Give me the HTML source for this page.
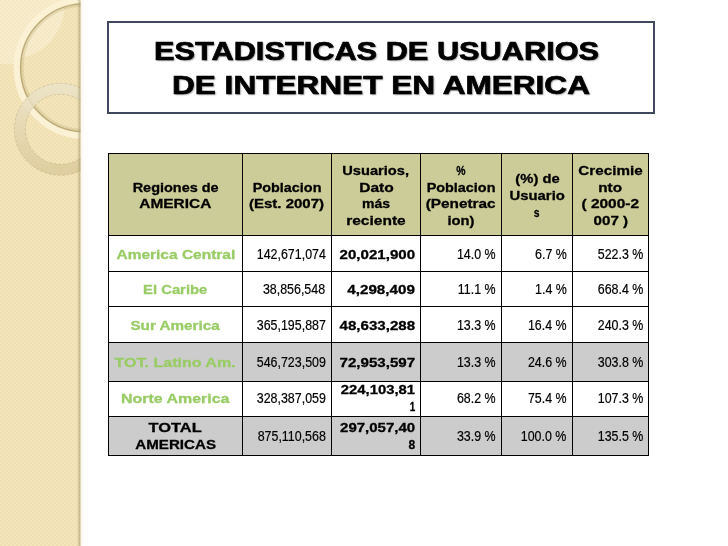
<!DOCTYPE html>
<html>
<head>
<meta charset="utf-8">
<title>Estadisticas de usuarios de Internet en America</title>
<style>
html,body{margin:0;padding:0;}
body{width:728px;height:546px;overflow:hidden;background:#fff;position:relative;font-family:"Liberation Sans",sans-serif;}
#side{position:absolute;left:0;top:0;}
#title{position:absolute;left:107px;top:21px;width:548px;height:93px;border:2px solid #40485e;box-sizing:border-box;background:#fff;}
#title span{position:absolute;display:inline-block;transform-origin:0 50%;font-weight:bold;font-size:26px;line-height:30px;color:#000;text-shadow:1px 1px 1.5px rgba(0,0,0,.38);white-space:nowrap;-webkit-text-stroke:0.7px #000;}
table{position:absolute;left:108px;top:153px;border-collapse:separate;border-spacing:0;table-layout:fixed;width:541px;border-left:1px solid #000;border-top:1px solid #000;}
td,th{border-right:1px solid #000;border-bottom:1px solid #000;padding:0;font-size:13px;line-height:16.75px;color:#000;white-space:nowrap;box-sizing:border-box;}
th{background:#cccc99;font-weight:bold;text-align:center;-webkit-text-stroke:0.3px currentColor;}
.s{display:inline-block;transform-origin:50% 50%;position:relative;top:var(--d,0px);}
td.r{-webkit-text-stroke:0.3px currentColor;font-weight:bold;text-align:center;color:#99cc66;}
td.n{text-align:right;font-weight:normal;padding-right:5.5px;font-size:14px;-webkit-text-stroke:0.2px #000;}
td.n .s{transform-origin:100% 50%;transform:scaleX(0.887);top:calc(var(--d,0px) - 1.1px);}
td.n:last-child{padding-right:4.5px;}
td.b{-webkit-text-stroke:0.3px currentColor;text-align:right;font-weight:bold;padding-right:5px;}
td.b .s{transform-origin:100% 50%;}
tr.g td{background:#cccccc;}
td.k{color:#000;}
</style>
</head>
<body>
<svg id="side" width="90" height="546" viewBox="0 0 90 546">
  <defs>
    <pattern id="dots" width="4" height="4" patternUnits="userSpaceOnUse">
      <rect width="4" height="4" fill="#f4e6bc"/>
      <rect x="0" y="0" width="2" height="2" fill="#efdfb1"/>
      <rect x="2" y="2" width="2" height="2" fill="#efdfb1"/>
    </pattern>
    <clipPath id="sc"><rect x="0" y="0" width="80.6" height="546"/></clipPath>
    <clipPath id="big"><circle cx="84.6" cy="67.75" r="65"/></clipPath>
    <linearGradient id="edge" x1="0" x2="1" y1="0" y2="0">
      <stop offset="0" stop-color="#a09868" stop-opacity="0"/>
      <stop offset="1" stop-color="#98906a" stop-opacity=".7"/>
    </linearGradient>
    <linearGradient id="sh" x1="0" x2="1" y1="0" y2="0">
      <stop offset="0" stop-color="#e8dfc0" stop-opacity=".35"/>
      <stop offset="1" stop-color="#fffdf5" stop-opacity="0"/>
    </linearGradient>
    <linearGradient id="ring2" x1="0" x2="0" y1="0" y2="1">
      <stop offset="0" stop-color="#ebe3c8"/>
      <stop offset="1" stop-color="#dccb9c"/>
    </linearGradient>
  </defs>
  <g clip-path="url(#sc)">
    <rect width="81" height="546" fill="url(#dots)"/>
    <rect width="81" height="64" fill="#fbf3dc" opacity=".48"/>
    <circle cx="84.6" cy="67.75" r="65" fill="url(#dots)"/>
    <g clip-path="url(#big)"><circle cx="10" cy="5" r="54.5" fill="#fbf3dc" opacity=".48"/></g>
    <circle cx="84.6" cy="67.75" r="68" fill="none" stroke="#fbf2d6" stroke-width="6"/>
    <circle cx="84.6" cy="67.75" r="62.5" fill="none" stroke="#b5a26c" stroke-width="3" opacity=".25"/>
    <circle cx="84.6" cy="67.75" r="64" fill="none" stroke="#b8a674" stroke-width="1.4" opacity=".9"/>
    <circle cx="60.4" cy="129.3" r="40.5" fill="none" stroke="url(#ring2)" stroke-width="11" opacity=".85"/>
    <circle cx="60.4" cy="129.3" r="46" fill="none" stroke="#9a8c60" stroke-width=".6" stroke-dasharray="3 1.5" opacity=".45"/>
    <circle cx="60.4" cy="129.3" r="35" fill="none" stroke="#9a8c60" stroke-width=".6" stroke-dasharray="3 1.5" opacity=".45"/>
    <rect x="77" y="0" width="3.6" height="546" fill="url(#edge)"/>
  </g>
  <rect x="80.6" y="0" width="5" height="546" fill="url(#sh)"/>
</svg>
<div id="title">
  <span style="left:44.5px;top:13.3px;transform:scaleX(1.182)">ESTADISTICAS DE USUARIOS</span>
  <span style="left:63px;top:46.9px;transform:scaleX(1.214)">DE INTERNET EN AMERICA</span>
</div>
<table>
<colgroup><col style="width:134px"><col style="width:89px"><col style="width:89px"><col style="width:81px"><col style="width:71px"><col style="width:76px"></colgroup>
<tr style="height:82px;--d:1.75px"><th><span class="s" style="transform:scaleX(1.113)">Regiones de</span><br><span class="s" style="transform:scaleX(1.187)">AMERICA</span></th><th><span class="s" style="transform:scaleX(1.107)">Poblacion</span><br><span class="s" style="transform:scaleX(1.153)">(Est. 2007)</span></th><th><span class="s" style="transform:scaleX(1.127)">Usuarios,</span><br><span class="s" style="transform:scaleX(1.194)">Dato</span><br><span class="s" style="transform:scaleX(1.076)">más</span><br><span class="s" style="transform:scaleX(1.193)">reciente</span></th><th><span class="s" style="transform:scaleX(0.800)">%</span><br><span class="s" style="transform:scaleX(1.107)">Poblacion</span><br><span class="s" style="transform:scaleX(1.181)">(Penetrac</span><br><span class="s" style="transform:scaleX(1.133)">ion)</span></th><th><span class="s" style="transform:scaleX(1.135)">(%) de</span><br><span class="s" style="transform:scaleX(1.141)">Usuario</span><br><span class="s" style="transform:scaleX(0.795)">s</span></th><th><span class="s" style="transform:scaleX(1.170)">Crecimie</span><br><span class="s" style="transform:scaleX(1.175)">nto</span><br><span class="s" style="transform:scaleX(1.188)">( 2000-2</span><br><span class="s" style="transform:scaleX(1.164)">007 )</span></th></tr>
<tr class="" style="height:36px;--d:1.75px"><td class="r"><span class="s" style="transform:scaleX(1.191)">America Central</span></td><td class="n"><span class="s">142,671,074</span></td><td class="b"><span class="s" style="transform:scaleX(1.160)">20,021,900</span></td><td class="n"><span class="s">14.0 %</span></td><td class="n"><span class="s">6.7 %</span></td><td class="n"><span class="s">522.3 %</span></td></tr>
<tr class="" style="height:35px;--d:1px"><td class="r"><span class="s" style="transform:scaleX(1.140)">El Caribe</span></td><td class="n"><span class="s">38,856,548</span></td><td class="b"><span class="s" style="transform:scaleX(1.167)">4,298,409</span></td><td class="n"><span class="s">11.1 %</span></td><td class="n"><span class="s">1.4 %</span></td><td class="n"><span class="s">668.4 %</span></td></tr>
<tr class="" style="height:36px;--d:1.75px"><td class="r"><span class="s" style="transform:scaleX(1.173)">Sur America</span></td><td class="n"><span class="s">365,195,887</span></td><td class="b"><span class="s" style="transform:scaleX(1.160)">48,633,288</span></td><td class="n"><span class="s">13.3 %</span></td><td class="n"><span class="s">16.4 %</span></td><td class="n"><span class="s">240.3 %</span></td></tr>
<tr class="g" style="height:39px;--d:1.25px"><td class="r"><span class="s" style="transform:scaleX(1.232)">TOT. Latino Am.</span></td><td class="n"><span class="s">546,723,509</span></td><td class="b"><span class="s" style="transform:scaleX(1.160)">72,953,597</span></td><td class="n"><span class="s">13.3 %</span></td><td class="n"><span class="s">24.6 %</span></td><td class="n"><span class="s">303.8 %</span></td></tr>
<tr class="" style="height:35px;--d:0px"><td class="r"><span class="s" style="transform:scaleX(1.228)">Norte America</span></td><td class="n"><span class="s">328,387,059</span></td><td class="b"><span class="s" style="transform:scaleX(1.141)">224,103,81</span><br><span class="s" style="transform:scaleX(0.761)">1</span></td><td class="n"><span class="s">68.2 %</span></td><td class="n"><span class="s">75.4 %</span></td><td class="n"><span class="s">107.3 %</span></td></tr>
<tr class="g" style="height:39px;--d:1px"><td class="r k"><span class="s" style="transform:scaleX(1.264)">TOTAL</span><br><span class="s" style="transform:scaleX(1.165)">AMERICAS</span></td><td class="n"><span class="s">875,110,568</span></td><td class="b"><span class="s" style="transform:scaleX(1.153)">297,057,40</span><br><span class="s" style="transform:scaleX(0.933)">8</span></td><td class="n"><span class="s">33.9 %</span></td><td class="n"><span class="s">100.0 %</span></td><td class="n"><span class="s">135.5 %</span></td></tr>
</table>
</body>
</html>
